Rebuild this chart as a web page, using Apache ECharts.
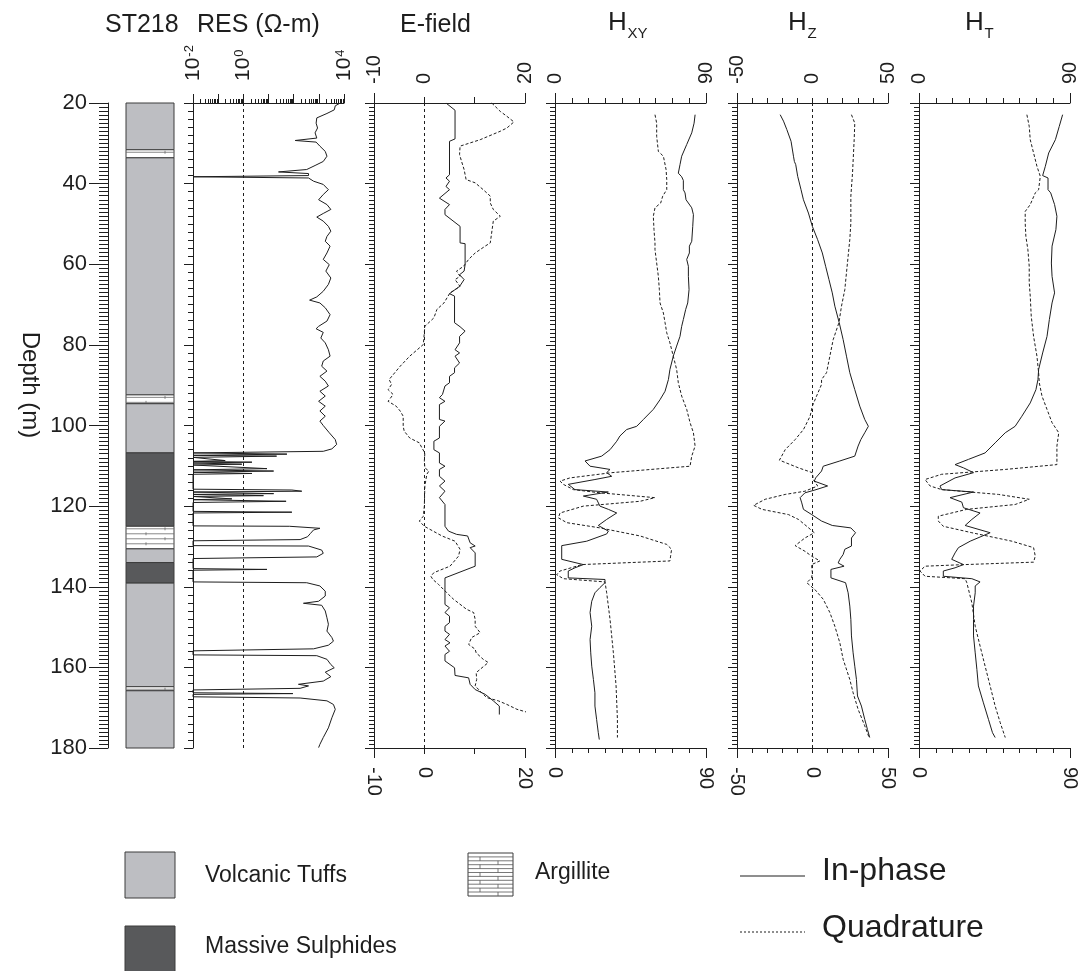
<!DOCTYPE html>
<html><head><meta charset="utf-8">
<script src="https://cdn.jsdelivr.net/npm/echarts@6/dist/echarts.min.js"></script>
<style>html,body{margin:0;padding:0;background:#fff}#c{width:1081px;height:971px}</style>
</head><body><div id="c"></div>
<script>
// ---------------- DATA ----------------
const depthTicks = [20, 40, 60, 80, 100, 120, 140, 160, 180];
const lithology = [
  [20, 31.6, 'tuff'], [31.6, 33.6, 'argillite'], [33.6, 92.4, 'tuff'], [92.4, 94.6, 'argillite'],
  [94.6, 106.8, 'tuff'], [106.8, 125, 'sulphide'], [125, 130.6, 'argillite'], [130.6, 134, 'tuff'],
  [134, 139.1, 'sulphide'], [139.1, 164.8, 'tuff'], [164.8, 165.8, 'argillite'], [165.8, 180, 'tuff']
];
// [depth m, resistivity ohm-m]
const resistivity = [[20.0,7100],[20.7,4500],[21.7,4100],[22.6,2100],[23.7,830],[25.0,780],[26.2,890],[27.4,710],[28.7,830],[29.3,115],[29.7,780],[30.7,1100],[32.0,1800],[33.2,2100],[34.5,1500],[35.5,710],[36.5,330],[37.1,25],[37.5,390],[38.0,390],[38.3,0.01],[38.6,390],[39.4,620],[40.2,1500],[41.5,2400],[42.7,1500],[44.0,980],[45.2,2100],[46.4,3000],[47.4,1500],[48.3,830],[49.3,1500],[50.6,2400],[51.8,3000],[53.1,2100],[54.3,1800],[55.5,2800],[57.2,2100],[58.8,1500],[60.1,2600],[61.7,1900],[63.4,3000],[65.0,2400],[66.7,1500],[68.1,830],[68.9,430],[69.6,1100],[70.8,1800],[72.5,2800],[74.1,2100],[75.4,980],[76.0,780],[76.9,1500],[78.3,1200],[79.5,1800],[81.2,2400],[82.8,2800],[84.0,1500],[85.3,1300],[86.5,2100],[87.8,1100],[89.0,1800],[90.2,2400],[91.5,1100],[92.7,1800],[94.0,980],[95.2,1800],[96.4,1100],[97.7,1800],[98.9,1100],[100.0,1500],[101.8,2600],[103.5,4500],[104.7,5100],[105.8,3300],[106.4,1500],[106.8,0.01],[107.1,54],[107.4,0.01],[107.6,21],[107.9,0.01],[108.7,0.19],[108.9,0.01],[109.1,2.2],[109.3,0.01],[109.6,0.87],[109.8,0.01],[110.7,8.7],[111.0,0.01],[111.3,16],[111.6,0.01],[111.9,2.2],[112.1,0.01],[115.8,0.01],[116.0,85],[116.3,210],[116.5,0.01],[116.9,16],[117.1,0.01],[117.4,6.3],[117.6,0.01],[118.2,0.35],[118.4,0.01],[118.8,50],[119.1,0.01],[121.3,0.01],[121.5,85],[121.7,0.01],[124.9,0.01],[125.0,69],[125.5,1100],[125.9,620],[126.8,460],[127.6,355],[128.3,180],[128.6,0.01],[129.8,0.01],[129.9,390],[130.9,1300],[131.7,1500],[132.6,830],[133.0,0.01],[135.5,0.01],[135.7,8.7],[135.9,0.01],[138.8,0.01],[139.0,330],[139.8,1100],[141.1,1800],[142.3,1800],[143.6,980],[144.1,245],[144.6,1300],[146.0,1800],[147.7,2100],[149.3,2400],[151.0,2100],[152.6,3300],[153.5,3800],[154.5,2400],[155.4,620],[155.9,0.01],[156.9,0.01],[157.1,830],[158.0,2100],[159.3,3000],[160.1,4100],[161.2,1800],[162.3,3000],[163.4,1500],[164.2,155],[164.6,390],[165.2,180],[165.6,0.01],[166.3,0.01],[166.5,93],[166.7,0.01],[167.3,0.01],[167.6,180],[168.3,2100],[169.2,3800],[170.4,4500],[172.5,3300],[175.0,2400],[177.4,1500],[179.1,1100],[179.9,980]];
// [depth m, value]
const eInPhase = [[20,4.3],[21.8,6.1],[28.9,6.1],[29.5,5.0],[37.8,5.0],[38.6,4.3],[39.4,5.0],[40.7,4.3],[41.5,5.0],[43.6,3.0],[45.2,5.0],[46.4,4.1],[47.7,4.1],[50.6,7.1],[54.7,7.1],[54.9,8.1],[60.1,8.1],[61.7,7.9],[62.6,7.0],[63.8,7.9],[65.5,7.0],[66.3,6.1],[67.3,5.0],[67.9,6.0],[74.5,6.0],[75.5,7.1],[76.6,8.1],[77.9,7.0],[79.5,7.0],[81.2,6.1],[82.0,7.0],[82.8,6.1],[84.5,7.0],[85.7,6.0],[86.9,6.0],[87.8,5.0],[89.4,5.0],[90.2,4.1],[92.3,3.6],[93.1,3.0],[94.0,4.1],[94.8,3.0],[98.5,3.0],[98.9,4.1],[100.2,3.0],[103.1,3.0],[103.9,1.9],[106.0,1.9],[106.8,3.0],[109.3,3.0],[110.1,4.1],[110.9,3.0],[112.6,3.0],[113.8,4.1],[115.0,3.0],[116.3,4.1],[117.9,3.0],[119.6,4.1],[125.0,4.1],[126.2,4.8],[127.0,6.4],[127.4,8.6],[129.1,9.1],[129.9,10.1],[130.3,9.1],[131.6,10.1],[134.9,10.1],[137.8,4.1],[144.4,4.1],[145.2,5.0],[146.4,4.1],[147.3,5.0],[148.9,5.0],[149.8,4.1],[151.0,4.1],[151.8,5.0],[153.1,4.1],[153.9,5.1],[154.7,4.1],[156.0,5.0],[156.8,4.1],[158.4,4.1],[160.1,6.0],[162.0,6.1],[162.6,8.8],[164.2,9.1],[165.5,10.1],[166.7,12.1],[168.3,13.7],[169.6,14.9],[171.7,14.9]];
const eQuadrature = [[20,13.4],[22.1,15.1],[23.3,16.4],[24.7,17.8],[26.2,16.4],[27.0,15.1],[29.1,11.1],[30.7,7.1],[32.8,7.0],[34.5,7.4],[36.5,7.9],[39.0,8.3],[39.8,10.1],[41.5,11.7],[43.1,13.1],[44.8,13.1],[46.4,13.7],[48.1,15.1],[49.3,13.7],[54.7,13.1],[55.5,12.1],[57.2,10.1],[58.8,8.8],[60.5,7.8],[61.7,6.4],[63.0,7.1],[63.8,6.1],[65.5,7.1],[66.3,6.1],[67.1,5.1],[69.6,3.9],[71.2,2.5],[73.3,1.9],[75.4,0.1],[79.9,-0.2],[81.2,-1.4],[82.8,-2.9],[85.3,-4.8],[88.6,-7.0],[89.8,-6.5],[91.1,-7.2],[92.3,-6.2],[94.0,-7.2],[95.2,-5.6],[96.4,-4.8],[97.7,-4.2],[100.2,-4.2],[101.4,-4.0],[103.1,-2.9],[104.3,-1.0],[105.5,-0.5],[106.8,0.1],[108.8,0],[110.5,0.1],[111.3,0.9],[112.1,0.5],[115.0,0.1],[120.0,0],[122.5,-0.2],[123.7,-1.0],[125.0,0],[127.4,3.5],[128.7,6.1],[130.7,7.1],[132.4,6.8],[134.9,5.1],[136.5,1.9],[137.4,1.3],[138.2,1.7],[139.4,2.8],[141.9,4.8],[143.1,5.8],[145.6,8.4],[146.4,9.8],[148.1,10.1],[149.8,10.1],[151.4,11.1],[152.6,9.4],[154.3,8.8],[155.5,10.1],[156.4,10.3],[158.0,11.7],[158.8,12.7],[161.3,10.3],[163.0,10.4],[164.6,10.1],[166.3,11.4],[167.5,12.4],[168.3,14.7],[169.2,16.4],[170.4,18.4],[171.7,22.0]];
const hxyInPhase = [[22.9,83.5],[25.0,82.9],[27.4,81.5],[30.3,78.5],[33.2,75.5],[35.3,74.5],[37.4,73.5],[38.3,75.5],[39.2,76.5],[41.5,76.5],[42.3,77.5],[44.0,78.1],[46.0,81.5],[47.7,82.5],[50.6,82.1],[54.3,81.5],[55.5,80.1],[57.2,80.1],[58.8,78.5],[60.5,79.5],[63.0,79.5],[66.3,79.9],[69.6,79.1],[71.2,77.9],[73.7,76.5],[75.4,75.5],[77.9,74.5],[80.3,72.5],[82.8,70.5],[86.1,68.5],[88.6,67.6],[91.5,65.6],[93.6,62.6],[96.0,58.6],[98.5,52.7],[100.2,48.7],[101.0,42.7],[102.6,38.7],[103.9,36.8],[106.0,32.8],[107.6,27.8],[108.8,17.9],[110.1,20.9],[110.9,32.8],[111.7,30.8],[112.6,33.8],[113.4,23.8],[114.6,7.9],[115.9,11.9],[116.5,31.8],[117.5,16.9],[118.3,24.8],[120.0,26.8],[120.8,31.8],[121.7,36.8],[123.3,30.8],[124.8,25.8],[126.2,31.8],[126.9,30.8],[128.7,18.9],[129.8,4.0],[133.2,4.0],[134.5,16.9],[135.3,11.9],[136.1,7.9],[137.8,7.9],[138.2,29.8],[139.0,29.8],[140.2,26.8],[141.5,23.8],[143.6,21.9],[146.4,20.9],[149.8,21.9],[153.1,20.9],[156.4,21.3],[159.7,21.9],[163.0,22.9],[166.3,23.8],[169.6,23.8],[172.9,24.8],[176.2,25.8],[177.9,26.4]];
const hxyQuadrature = [[22.9,59.6],[25.0,60.6],[28.3,60.6],[32.0,61.6],[33.2,64.6],[36.5,66.2],[39.0,66.6],[41.5,66.6],[43.1,64.2],[44.8,63.0],[46.0,59.6],[48.1,58.6],[51.4,59.0],[54.7,59.6],[56.4,59.6],[59.7,60.6],[63.0,61.6],[66.3,62.2],[69.6,62.6],[72.1,64.6],[74.5,65.6],[77.0,66.6],[79.5,68.5],[82.8,70.5],[86.1,72.5],[89.4,73.5],[92.7,75.5],[96.0,78.5],[99.3,80.5],[101.8,82.5],[105.1,83.5],[107.6,81.5],[110.1,80.5],[111.7,33.8],[113.0,8.9],[113.8,3.0],[114.6,5.0],[115.9,10.9],[116.7,26.8],[117.9,59.6],[118.8,50.7],[120.0,16.9],[121.7,3.0],[122.9,2.0],[124.1,7.0],[125.4,26.8],[127.4,50.7],[129.5,66.6],[130.7,69.5],[132.4,68.9],[133.6,68.5],[134.5,15.9],[134.9,12.9],[136.1,3.0],[137.0,1.0],[138.0,5.0],[138.8,29.8],[141.5,30.8],[148.1,32.8],[156.4,34.8],[164.6,36.4],[172.9,37.2],[177.4,37.2]];
const hzInPhase = [[22.9,-21.4],[24.5,-19.2],[26.6,-17.0],[29.5,-14.2],[33.2,-12.6],[34.5,-12.0],[35.3,-11.1],[38.2,-9.8],[41.5,-7.6],[44.0,-6.0],[47.3,-2.7],[50.6,-0.1],[53.9,3.4],[57.2,6.5],[60.5,8.7],[63.8,10.9],[67.1,13.1],[70.4,14.8],[74.5,17.7],[78.7,20.3],[82.8,22.5],[86.9,24.7],[91.1,28.0],[95.2,31.3],[98.5,34.6],[100.2,37.0],[101.8,34.6],[103.5,32.0],[105.1,30.2],[107.6,28.0],[108.8,18.1],[110.1,7.1],[111.3,6.0],[113.0,2.1],[113.8,1.2],[115.0,10.0],[116.0,1.6],[116.7,-5.0],[117.9,-8.2],[119.2,-7.1],[120.8,-6.0],[122.1,-0.5],[123.7,6.0],[124.8,13.1],[125.4,25.4],[126.6,28.5],[127.9,25.8],[129.9,25.8],[130.7,21.4],[132.0,20.3],[133.2,18.1],[134.1,17.0],[134.9,20.9],[135.7,12.2],[137.8,12.2],[139.0,21.9],[141.5,23.6],[144.8,24.7],[148.1,25.4],[152.2,25.8],[156.4,26.9],[159.7,28.0],[163.0,29.1],[167.1,29.8],[169.6,32.4],[172.9,34.6],[175.4,36.4],[177.4,37.9]];
const hzQuadrature = [[22.9,25.8],[25.0,28.0],[29.1,27.6],[37.4,26.5],[43.1,25.4],[49.8,25.4],[53.9,24.7],[58.0,23.6],[62.1,22.5],[66.3,21.4],[70.4,19.2],[74.5,17.5],[78.7,13.7],[82.8,11.5],[86.9,9.3],[88.6,6.0],[89.8,6.0],[92.7,2.7],[95.2,-0.1],[97.7,-1.6],[100.2,-4.9],[101.0,-6.0],[103.5,-11.5],[106.0,-18.1],[108.6,-21.9],[110.5,-9.3],[111.7,-0.1],[113.4,0.5],[115.0,3.4],[116.3,-5.0],[117.1,-18.1],[118.3,-31.3],[119.8,-39.0],[120.8,-33.5],[122.1,-15.9],[123.3,-9.3],[125.0,-3.8],[126.6,1.2],[127.9,-5.0],[129.8,-11.5],[131.2,-5.0],[132.4,-0.6],[133.6,4.9],[134.5,-0.6],[136.5,-0.1],[137.8,-0.6],[139.0,-3.8],[140.7,1.6],[143.1,7.1],[146.4,11.5],[149.8,14.8],[153.9,18.1],[158.0,20.3],[163.0,24.7],[166.3,26.9],[170.4,30.2],[174.5,34.6],[177.4,37.5]];
const htInPhase = [[22.9,85.6],[25.8,83.6],[29.1,81.3],[32.4,77.3],[35.7,75.3],[38.0,73.7],[38.6,76.9],[41.5,76.9],[42.3,78.5],[45.2,80.8],[48.1,82.2],[51.4,81.6],[55.5,79.3],[59.7,78.9],[63.0,79.3],[67.1,80.8],[69.6,79.3],[73.7,77.7],[77.9,76.3],[82.0,73.7],[86.1,71.3],[88.6,70.9],[91.1,69.7],[94.4,66.3],[97.7,61.3],[100.2,57.3],[101.8,51.4],[104.3,45.4],[106.8,39.4],[108.4,29.5],[109.7,21.5],[110.5,26.5],[111.7,32.5],[113.0,21.5],[115.0,12.5],[115.9,13.5],[116.5,32.5],[117.9,18.5],[119.0,25.5],[120.4,26.5],[121.7,36.4],[123.3,31.5],[124.8,27.5],[126.6,42.4],[128.7,30.5],[130.3,23.5],[131.6,21.5],[133.2,19.5],[134.5,26.5],[135.3,21.5],[136.1,14.5],[137.4,14.5],[138.0,31.5],[138.8,36.4],[139.8,33.5],[141.5,33.5],[144.8,32.5],[148.1,32.5],[152.2,32.5],[156.4,33.5],[160.5,34.5],[164.6,35.4],[168.8,38.4],[172.9,41.4],[176.2,43.8],[177.4,45.4]];
const htQuadrature = [[22.9,64.3],[25.8,65.7],[29.1,66.3],[32.4,68.3],[35.7,70.3],[38.2,72.3],[41.5,71.3],[42.3,69.3],[45.2,66.3],[46.9,63.3],[49.8,63.3],[53.1,63.7],[56.4,64.9],[60.5,65.7],[64.6,65.7],[67.9,66.3],[72.9,66.9],[77.9,68.3],[82.8,70.3],[86.9,71.3],[89.4,71.7],[92.7,73.3],[96.0,76.3],[99.3,79.3],[101.8,83.3],[105.1,82.2],[109.7,82.2],[110.9,51.4],[112.1,13.5],[113.4,3.6],[115.0,6.6],[115.9,13.5],[117.1,47.4],[118.3,65.7],[119.6,57.3],[120.8,28.5],[122.5,11.5],[123.7,11.5],[125.0,14.5],[126.6,31.5],[128.7,55.4],[130.3,68.3],[132.4,69.3],[133.9,68.3],[134.5,27.5],[134.9,3.6],[136.1,0.6],[137.4,3.6],[138.0,27.5],[139.0,28.5],[144.0,31.5],[149.8,33.5],[154.7,36.4],[159.7,39.4],[164.6,42.4],[169.6,45.4],[173.7,48.4],[177.4,51.4]];

// axis ranges & tick labels
const resExpRange = [-2, 4];
const resLabels = [-2, 0, 4];
const eRange = [-10, 20], eLabels = [-10, 0, 20];
const hxyRange = [0, 90], hxyLabels = [0, 90];
const hzRange = [-50, 50], hzLabels = [-50, 0, 50];
const htRange = [0, 90], htLabels = [0, 90];
const titles = ['ST218', 'RES (\u03A9-m)', 'E-field'];
const legendText = ['Volcanic Tuffs', 'Massive Sulphides', 'Argillite', 'In-phase', 'Quadrature'];

// ---------------- STYLE ----------------
const FONT = '"Liberation Sans", Arial, Helvetica, sans-serif';
const INK = '#1e1e1e';
const TUFF = '#bdbec2', SULPH = '#58595b';
const TOP = 103, HEIGHT = 645;
const panelBox = [[108, 66], [193, 151], [374, 151], [555, 151], [737, 151], [919, 151]];

const chart = echarts.init(document.getElementById('c'), null, {renderer: 'canvas'});

const grid = panelBox.map(([l, w]) => ({left: l, top: TOP, width: w, height: HEIGHT, outerBoundsMode: 'none', containLabel: false}));

const yAxis = panelBox.map((p, i) => ({
  type: 'value', gridIndex: i, min: depthTicks[0], max: depthTicks[depthTicks.length - 1], interval: 20, inverse: true,
  axisLine: {show: true, onZero: false, lineStyle: {color: INK, width: 1}},
  axisTick: {show: true, length: i === 0 ? 19 : 9, lineStyle: {color: INK, width: 1}},
  minorTick: {show: true, splitNumber: i === 1 ? 10 : 20, length: i === 0 ? 9 : 5, lineStyle: {color: INK, width: 1}},
  splitLine: {show: false}, minorSplitLine: {show: false},
  axisLabel: {show: i === 0, fontSize: 22, fontFamily: FONT, color: INK, margin: 21}
}));

const xAxis = [];
xAxis.push({type: 'value', gridIndex: 0, min: 0, max: 1, show: false});
// RES (log10 space)
const resMinor = [];
for (let d = resExpRange[0]; d < resExpRange[1]; d++) for (let k = 2; k <= 9; k++) resMinor.push(d + Math.log10(k));
const supRich = {sup: {fontSize: 13, fontFamily: FONT, color: INK, verticalAlign: 'top', padding: [0, 0, 0, 1]}};
xAxis.push({
  type: 'value', gridIndex: 1, position: 'top', min: resExpRange[0], max: resExpRange[1], interval: 1,
  axisLine: {show: true, onZero: false, lineStyle: {color: INK, width: 1}},
  axisTick: {show: true, length: 9, lineStyle: {color: INK}}, splitLine: {show: false},
  axisLabel: {show: true, interval: 0, rotate: -90, margin: 22, fontSize: 21, fontFamily: FONT, color: INK, rich: supRich,
    formatter: v => resLabels.includes(Math.round(v)) ? '10{sup|' + Math.round(v) + '}' : ''}
});
xAxis.push({
  type: 'value', gridIndex: 1, position: 'top', min: resExpRange[0], max: resExpRange[1],
  axisLine: {show: false, onZero: false}, splitLine: {show: false}, axisLabel: {show: false},
  axisTick: {show: true, length: 4, customValues: resMinor, lineStyle: {color: INK}}
});
function linearAxes(gridIndex, range, labels, tickLen) {
  const out = [];
  ['top', 'bottom'].forEach(pos => {
    out.push({
      type: 'value', gridIndex, position: pos, min: range[0], max: range[1], interval: 10,
      axisLine: {show: true, onZero: false, lineStyle: {color: INK, width: 1}},
      axisTick: {show: true, length: tickLen, lineStyle: {color: INK}}, splitLine: {show: false},
      axisLabel: {show: true, interval: 0, rotate: -90, margin: 19, fontSize: 20, fontFamily: FONT, color: INK,
        formatter: v => labels.includes(v) ? String(v) : ''}
    });
    out.push({
      type: 'value', gridIndex, position: pos, min: range[0], max: range[1], interval: range[1] - range[0],
      axisLine: {show: false, onZero: false}, splitLine: {show: false}, axisLabel: {show: false},
      axisTick: {show: true, length: 10, lineStyle: {color: INK}}
    });
  });
  return out;
}
const eX = xAxis.length; xAxis.push(...linearAxes(2, eRange, eLabels, 6));
const hxyX = xAxis.length; xAxis.push(...linearAxes(3, hxyRange, hxyLabels, 5));
const hzX = xAxis.length; xAxis.push(...linearAxes(4, hzRange, hzLabels, 5));
const htX = xAxis.length; xAxis.push(...linearAxes(5, htRange, htLabels, 5));

function zeroLine(x) {
  return {silent: true, symbol: ['none', 'none'], label: {show: false}, animation: false,
    lineStyle: {color: INK, width: 1, type: [3, 3]}, emphasis: {disabled: true}, data: [{xAxis: x}]};
}
function curve(xi, yi, pts, dashed, extra) {
  return Object.assign({
    type: 'line', xAxisIndex: xi, yAxisIndex: yi, data: pts.map(p => [p[1], p[0]]),
    symbol: 'none', showSymbol: false, silent: true, animation: false,
    lineStyle: {color: INK, width: 1, type: dashed ? [3, 2] : 'solid'}, z: 3
  }, extra || {});
}

function renderLitho(params, api) {
  const item = lithology[params.dataIndex];
  const cs = params.coordSys;
  const x0 = cs.x + 18, x1 = cs.x + cs.width;
  const y0 = api.coord([0, item[0]])[1], y1 = api.coord([0, item[1]])[1];
  const kind = item[2];
  const fill = kind === 'tuff' ? TUFF : kind === 'sulphide' ? SULPH : '#ffffff';
  const children = [{type: 'rect', shape: {x: x0, y: y0, width: x1 - x0, height: y1 - y0}, style: {fill: fill, stroke: '#3c3c3c', lineWidth: 1}}];
  if (kind === 'argillite') {
    let row = 0;
    for (let y = y0 + 2.5; y < y1 - 1; y += 5, row++) {
      children.push({type: 'line', shape: {x1: x0, y1: y, x2: x1, y2: y}, style: {stroke: '#6a6a6a', lineWidth: 0.8}});
      const vx = row % 2 ? x0 + 20 : x0 + 39;
      children.push({type: 'line', shape: {x1: vx, y1: y - 1.5, x2: vx, y2: y + 1.5}, style: {stroke: '#6a6a6a', lineWidth: 0.8}});
    }
  }
  return {type: 'group', children};
}

const series = [
  {type: 'custom', xAxisIndex: 0, yAxisIndex: 0, renderItem: renderLitho, silent: true, animation: false,
    encode: {x: 0, y: [1, 2]}, data: lithology.map(l => [0.5, l[0], l[1]]), clip: false},
  curve(1, 1, resistivity.map(p => [p[0], Math.log10(p[1])]), false, {markLine: zeroLine(0)}),
  curve(eX, 2, eInPhase, false, {markLine: zeroLine(0)}),
  curve(eX, 2, eQuadrature, true, {clip: false}),
  curve(hxyX, 3, hxyInPhase, false),
  curve(hxyX, 3, hxyQuadrature, true),
  curve(hzX, 4, hzInPhase, false, {markLine: zeroLine(0)}),
  curve(hzX, 4, hzQuadrature, true),
  curve(htX, 5, htInPhase, false),
  curve(htX, 5, htQuadrature, true)
];

function txt(x, y, text, size, align, rotation) {
  const el = {type: 'text', x: x, y: y, silent: true,
    style: {text: text, font: size + 'px ' + FONT, fontSize: size, fontFamily: FONT, fill: INK,
      textAlign: align || 'left', align: align || 'left', textVerticalAlign: 'middle', verticalAlign: 'middle'}};
  if (rotation !== undefined) el.rotation = rotation;
  return el;
}
const graphic = [];
// titles
graphic.push(txt(105, 25, titles[0], 25));
graphic.push(txt(197, 25, titles[1], 25));
graphic.push(txt(400, 25, titles[2], 25));
[[608, 'XY'], [788, 'Z'], [965, 'T']].forEach(([x, sub]) => {
  graphic.push(txt(x, 23, 'H', 26));
  graphic.push(txt(x + 19.5, 33.5, sub, 15));
});
// Depth label
graphic.push(txt(30, 385, 'Depth (m)', 24, 'center', -Math.PI / 2));
// legend
graphic.push({type: 'rect', shape: {x: 125, y: 852, width: 50, height: 46}, style: {fill: TUFF, stroke: '#3c3c3c', lineWidth: 1}, silent: true});
graphic.push(txt(205, 876, legendText[0], 23));
graphic.push({type: 'rect', shape: {x: 125, y: 926, width: 50, height: 46}, style: {fill: SULPH, stroke: '#3c3c3c', lineWidth: 1}, silent: true});
graphic.push(txt(205, 947, legendText[1], 23));
graphic.push({type: 'rect', shape: {x: 468, y: 853, width: 45, height: 43}, style: {fill: '#fff', stroke: '#3c3c3c', lineWidth: 1}, silent: true});
for (let i = 1; i < 11; i++) {
  const y = 853 + i * 3.9;
  graphic.push({type: 'line', shape: {x1: 468, y1: y, x2: 513, y2: y}, style: {stroke: '#555', lineWidth: 0.8}, silent: true});
  const vx = i % 2 ? 480 : 498;
  graphic.push({type: 'line', shape: {x1: vx, y1: y, x2: vx, y2: y + 3.9}, style: {stroke: '#555', lineWidth: 0.8}, silent: true});
}
graphic.push(txt(535, 873, legendText[2], 23));
graphic.push({type: 'line', shape: {x1: 740, y1: 876, x2: 805, y2: 876}, style: {stroke: INK, lineWidth: 1}, silent: true});
graphic.push(txt(822, 871, legendText[3], 32));
graphic.push({type: 'line', shape: {x1: 740, y1: 932, x2: 805, y2: 932}, style: {stroke: INK, lineWidth: 1, lineDash: [2, 2]}, silent: true});
graphic.push(txt(822, 928, legendText[4], 32));

chart.setOption({
  animation: false,
  backgroundColor: '#ffffff',
  textStyle: {fontFamily: FONT},
  grid, xAxis, yAxis, series, graphic
});
</script></body></html>
